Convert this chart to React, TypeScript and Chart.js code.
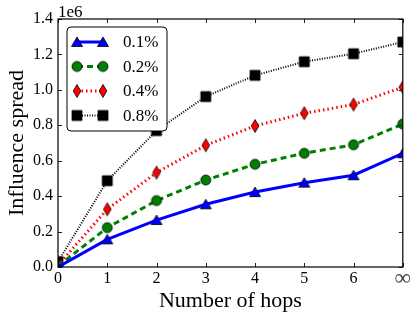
import React, { useEffect, useRef } from 'react';
import { Chart, registerables } from 'chart.js';
Chart.register(...registerables);

const hops = ['0', '1', '2', '3', '4', '5', '6', '∞'];
const seriesNames = ['0.1%', '0.2%', '0.4%', '0.8%'];
const p01 = [0, 156000, 265000, 354000, 423000, 476000, 518000, 642000];
const p02 = [5000, 222000, 375000, 491000, 580000, 642000, 690000, 807000];
const p04 = [10000, 326000, 533000, 687000, 796000, 868000, 917000, 1015000];
const p08 = [30000, 487000, 770000, 962000, 1082000, 1159000, 1204000, 1270000];
const yTicks = [0, 200000, 400000, 600000, 800000, 1000000, 1200000, 1400000];

const FONT = '"Liberation Serif", "Times New Roman", serif';

function makeMarker(kind: string, fill: string): HTMLCanvasElement {
  const c = document.createElement('canvas');
  c.width = 16;
  c.height = 16;
  const ctx = c.getContext('2d')!;
  const cx = 8, cy = 8;
  ctx.fillStyle = fill;
  ctx.strokeStyle = '#000';
  ctx.lineWidth = 0.8;
  ctx.beginPath();
  if (kind === 'triangle') {
    ctx.moveTo(cx, cy - 5);
    ctx.lineTo(cx + 5.5, cy + 4.5);
    ctx.lineTo(cx - 5.5, cy + 4.5);
  } else if (kind === 'circle') {
    ctx.arc(cx, cy, 5, 0, Math.PI * 2);
  } else if (kind === 'diamond') {
    ctx.moveTo(cx, cy - 6.5);
    ctx.lineTo(cx + 3.8, cy);
    ctx.lineTo(cx, cy + 6.5);
    ctx.lineTo(cx - 3.8, cy);
  } else {
    ctx.rect(cx - 5, cy - 5, 10, 10);
  }
  ctx.closePath();
  ctx.fill();
  ctx.stroke();
  return c;
}

const framePlugin = {
  id: 'framePlugin',
  afterDraw(chart: any) {
    const { ctx, chartArea: a, scales } = chart;
    ctx.save();
    // inward ticks
    ctx.strokeStyle = '#222';
    ctx.lineWidth = 1;
    const xs = scales.x;
    const ys = scales.y;
    ctx.beginPath();
    xs.ticks.forEach((_t: any, i: number) => {
      const px = Math.round(xs.getPixelForTick(i)) + 0.5;
      ctx.moveTo(px, a.bottom);
      ctx.lineTo(px, a.bottom - 4);
      ctx.moveTo(px, a.top);
      ctx.lineTo(px, a.top + 4);
    });
    ys.ticks.forEach((_t: any, i: number) => {
      const py = Math.round(ys.getPixelForTick(i)) + 0.5;
      ctx.moveTo(a.left, py);
      ctx.lineTo(a.left + 4, py);
      ctx.moveTo(a.right, py);
      ctx.lineTo(a.right - 4, py);
    });
    ctx.stroke();
    // frame
    ctx.strokeStyle = '#000';
    ctx.lineWidth = 1.2;
    ctx.strokeRect(a.left, a.top, a.right - a.left, a.bottom - a.top);
    // offset text
    ctx.fillStyle = '#000';
    ctx.font = `17px ${FONT}`;
    ctx.textAlign = 'left';
    ctx.textBaseline = 'alphabetic';
    ctx.fillText('1e6', a.left, a.top - 2);

    // legend
    const bx = a.left + 9, by = a.top + 8, bw = 100, bh = 104, r = 4;
    ctx.beginPath();
    ctx.moveTo(bx + r, by);
    ctx.lineTo(bx + bw - r, by);
    ctx.arcTo(bx + bw, by, bx + bw, by + r, r);
    ctx.lineTo(bx + bw, by + bh - r);
    ctx.arcTo(bx + bw, by + bh, bx + bw - r, by + bh, r);
    ctx.lineTo(bx + r, by + bh);
    ctx.arcTo(bx, by + bh, bx, by + bh - r, r);
    ctx.lineTo(bx, by + r);
    ctx.arcTo(bx, by, bx + r, by, r);
    ctx.closePath();
    ctx.fillStyle = '#fff';
    ctx.fill();
    ctx.strokeStyle = '#000';
    ctx.lineWidth = 1;
    ctx.stroke();

    chart.data.datasets.forEach((ds: any, i: number) => {
      const rowY = by + 15 + i * 24.5;
      const x1 = bx + 10, x2 = bx + 36;
      ctx.save();
      ctx.beginPath();
      ctx.strokeStyle = ds.borderColor;
      ctx.lineWidth = ds.borderWidth;
      ctx.setLineDash(ds.borderDash || []);
      ctx.moveTo(x1, rowY);
      ctx.lineTo(x2, rowY);
      ctx.stroke();
      ctx.restore();
      const m = ds.pointStyle as HTMLCanvasElement;
      ctx.drawImage(m, x1 - m.width / 2, rowY - m.height / 2);
      ctx.drawImage(m, x2 - m.width / 2, rowY - m.height / 2);
      ctx.fillStyle = '#000';
      ctx.font = `17px ${FONT}`;
      ctx.textBaseline = 'middle';
      ctx.textAlign = 'left';
      ctx.fillText(ds.label, bx + 56, rowY + 1);
    });
    ctx.restore();
  },
};

export default function App() {
  const ref = useRef<HTMLCanvasElement | null>(null);
  useEffect(() => {
    document.body.style.margin = '0';
    const canvas = ref.current!;
    const mk = (label: string, data: number[], color: string, dash: number[], width: number, marker: string) => ({
      label,
      data,
      borderColor: color,
      backgroundColor: color,
      borderWidth: width,
      borderDash: dash,
      pointStyle: makeMarker(marker, color),
      pointRadius: 6,
      tension: 0,
      clip: 0,
      fill: false,
    });
    const chart = new Chart(canvas, {
      type: 'line',
      data: {
        labels: hops,
        datasets: [
          mk(seriesNames[3], p08, '#000000', [1, 1.5], 2, 'square'),
          mk(seriesNames[2], p04, '#ff0000', [1.5, 3], 3, 'diamond'),
          mk(seriesNames[1], p02, '#008000', [6, 4], 3, 'circle'),
          mk(seriesNames[0], p01, '#0000ff', [], 3, 'triangle'),
        ].reverse() as any,
      },
      options: {
        animation: false,
        responsive: false,
        maintainAspectRatio: false,
        layout: { padding: { top: 19, right: 12, left: 0, bottom: 0 } },
        plugins: { legend: { display: false }, tooltip: { enabled: false } },
        scales: {
          x: {
            type: 'category',
            offset: false,
            grid: { display: false, drawTicks: false },
            border: { display: false },
            ticks: {
              color: (c: any) => (hops[c.index] === '∞' ? '#444' : '#000'),
              font: (c: any) =>
                hops[c.index] === '∞'
                  ? { family: FONT, size: 23, lineHeight: 16 / 23 }
                  : { family: FONT, size: 16, lineHeight: 1 },
              padding: 4,
              maxRotation: 0,
              autoSkip: false,
            },
            title: { display: true, text: 'Number of hops', color: '#000', font: { family: FONT, size: 22, lineHeight: 1 }, padding: { top: 4, bottom: 0 } },
            afterFit: (s: any) => { s.height = 45; },
          },
          y: {
            min: 0,
            max: 1400000,
            grid: { display: false, drawTicks: false },
            border: { display: false },
            afterBuildTicks: (s: any) => { s.ticks = yTicks.map((v) => ({ value: v })); },
            ticks: {
              color: '#000',
              font: { family: FONT, size: 16 },
              padding: 5,
              callback: (v: any) => (Number(v) / 1e6).toFixed(1),
            },
            title: { display: true, text: 'Influence spread', color: '#000', font: { family: FONT, size: 22, lineHeight: 1 }, padding: { top: 6, bottom: 0 } },
            afterFit: (s: any) => { s.width = 58; },
          },
        },
      },
      plugins: [framePlugin],
    });
    return () => chart.destroy();
  }, []);
  return (
    <div style={{ width: 415, height: 312 }}>
      <canvas ref={ref} width={415} height={312} style={{ width: 415, height: 312, display: 'block' }} />
    </div>
  );
}
